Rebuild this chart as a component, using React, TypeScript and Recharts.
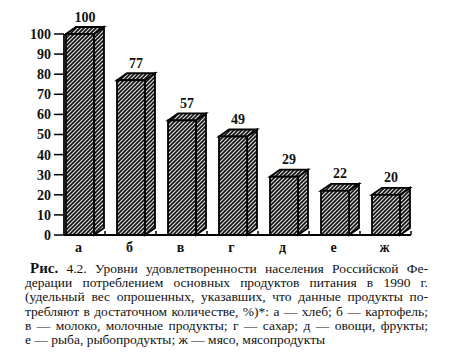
import React from 'react';
import { BarChart, Bar, XAxis, YAxis, LabelList } from 'recharts';

const categories = ['а', 'б', 'в', 'г', 'д', 'е', 'ж'];
const values = [100, 77, 57, 49, 29, 22, 20];
const yTicks = [0, 10, 20, 30, 40, 50, 60, 70, 80, 90, 100];

const captionLines = [
  'Уровни удовлетворенности населения Российской Фе-',
  'дерации потреблением основных продуктов питания в 1990 г.',
  '(удельный вес опрошенных, указавших, что данные продукты по-',
  'требляют в достаточном количестве, %)*: а — хлеб; б — картофель;',
  'в — молоко, молочные продукты; г — сахар; д — овощи, фрукты;',
  'е — рыба, рыбопродукты; ж — мясо, мясопродукты',
];

const data = categories.map((c, i) => ({ cat: c, value: values[i] }));

const FONT = "'Liberation Serif', 'Times New Roman', Times, serif";
const DX = 10;
const DY = 7;

const Bar3D = (props: any) => {
  const { x, y, width, height } = props;
  const b = y + height;
  const r = x + width;
  return (
    <g stroke="#000" strokeWidth={1.8} strokeLinejoin="miter" fill="url(#hatch)">
      <polygon points={`${r},${b} ${r},${y} ${r + DX},${y - DY} ${r + DX},${b - DY}`} />
      <polygon points={`${x},${y} ${x + DX},${y - DY} ${r + DX},${y - DY} ${r},${y}`} />
      <rect x={x} y={y} width={width} height={height} />
    </g>
  );
};

const ValueLabel = (props: any) => {
  const { x, y, width, value } = props;
  return (
    <text
      x={x + width / 2 + DX / 2}
      y={y - 12.5}
      textAnchor="middle"
      fontSize={14}
      fontWeight="bold"
      fontFamily={FONT}
      fill="#111"
    >
      {value}
    </text>
  );
};

const CatTick = (props: any) => {
  const { x, y, payload } = props;
  const off = payload && payload.offset ? payload.offset : 25.5;
  return (
    <g>
      <line x1={x + off} x2={x + off} y1={y} y2={y - 4} stroke="#000" strokeWidth={1.5} />
      <text
        x={x - 1}
        y={y + 16.5}
        textAnchor="middle"
        fontSize={14}
        fontWeight="bold"
        fontFamily={FONT}
        fill="#111"
      >
        {payload.value}
      </text>
    </g>
  );
};

export default function App() {
  return (
    <div style={{ fontFamily: FONT, color: '#111' }}>
      <BarChart width={440} height={252} data={data} margin={{ top: 26, right: 37, left: 0, bottom: 0 }}>
        <defs>
          <pattern id="hatch" patternUnits="userSpaceOnUse" width={4} height={4}>
            <rect width={4} height={4} fill="#ddd" />
            <path d="M0,4 L4,0 M-1,1 L1,-1 M3,5 L5,3" stroke="#111" strokeWidth={1.6} />
          </pattern>
        </defs>
        <XAxis
          dataKey="cat"
          padding={{ left: -10, right: 0 }}
          height={25}
          tickLine={false}
          tickSize={0}
          tickMargin={0}
          tick={<CatTick />}
          axisLine={{ stroke: '#000', strokeWidth: 2 }}
          interval={0}
        />
        <YAxis
          width={56}
          domain={[0, 100]}
          ticks={yTicks}
          interval={0}
          tickSize={10}
          tickMargin={3}
          tick={{ fill: '#111', fontSize: 14, fontWeight: 'bold', fontFamily: FONT }}
          tickLine={{ stroke: '#000', strokeWidth: 1.5 }}
          axisLine={{ stroke: '#000', strokeWidth: 1.8 }}
        />
        <Bar dataKey="value" barSize={28} shape={<Bar3D />} isAnimationActive={false}>
          <LabelList dataKey="value" content={<ValueLabel />} />
        </Bar>
      </BarChart>
      <div style={{ marginLeft: 17, marginTop: 1, width: 403, fontSize: 13.5, lineHeight: '14.2px' }}>
        {captionLines.map((line, i) => (
          <div
            key={i}
            style={{
              textAlign: 'justify',
              textAlignLast: i === captionLines.length - 1 ? 'left' : 'justify',
              textIndent: i === 0 ? 5 : 0,
            }}
          >
            {i === 0 && (
              <>
                <b style={{ fontSize: 15 }}>Рис.</b> 4.2.{' '}
              </>
            )}
            {line}
          </div>
        ))}
      </div>
    </div>
  );
}
